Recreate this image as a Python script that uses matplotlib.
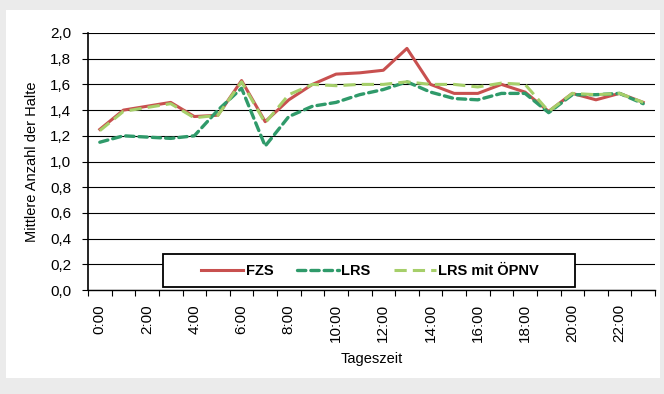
import numpy as np
from matplotlib import pyplot as plt
from matplotlib.patches import Rectangle

# Mittlere Anzahl der Halte je Stunde
hours = list(range(24))
tick_labels = ["%d:00" % h for h in range(0, 24, 2)]

fzs = [1.25, 1.40, 1.43, 1.46, 1.35, 1.36, 1.63, 1.31, 1.48, 1.60, 1.68, 1.69, 1.71, 1.88,
       1.60, 1.53, 1.53, 1.60, 1.54, 1.39, 1.53, 1.48, 1.53, 1.46]
lrs = [1.15, 1.20, 1.19, 1.18, 1.20, 1.40, 1.57, 1.12, 1.35, 1.43, 1.46, 1.52, 1.56, 1.62,
       1.54, 1.49, 1.48, 1.53, 1.53, 1.38, 1.52, 1.52, 1.53, 1.45]
lrs_oepnv = [1.24, 1.39, 1.42, 1.45, 1.34, 1.36, 1.62, 1.30, 1.52, 1.60, 1.59, 1.60, 1.60, 1.62,
             1.60, 1.60, 1.58, 1.61, 1.60, 1.39, 1.53, 1.52, 1.53, 1.46]

plt.rcParams['font.family'] = ['Liberation Sans', 'DejaVu Sans']

fig = plt.figure(figsize=(6.64, 3.94), dpi=100, facecolor="#ebebeb")
# weisse Innenflaeche
fig.patches.append(Rectangle((6 / 664, 16 / 394), 654 / 664, 368 / 394,
                             transform=fig.transFigure, facecolor="white",
                             edgecolor="none", zorder=-10))

ax = fig.add_axes([88 / 664, 1 - 290 / 394, 567 / 664, 257 / 394])
ax.set_zorder(1)
ax.set_facecolor("white")

x = np.array(hours) + 0.5
ax.plot(x, fzs, color="#c8504f", lw=2.2, label="FZS", zorder=3)
ax.plot(x, lrs, color="#2f9a6a", lw=2.4, ls=(0, (2.5, 1.5)), dash_capstyle="round",
        label="LRS", zorder=4)
ax.plot(x, lrs_oepnv, color="#a6cf6a", lw=2.2, ls=(0, (4, 2)), label="LRS mit ÖPNV", zorder=5)

ax.set_xlim(0, 24)
ax.set_ylim(0, 2.0)
yt = np.arange(0, 2.01, 0.2)
ax.set_yticks(yt)
ax.set_yticklabels([("%.1f" % v).replace(".", ",") for v in yt], fontsize=11)
ax.yaxis.grid(True, color="black", lw=0.8)
ax.set_axisbelow(True)

ax.set_xticks(range(25), minor=False)
ax.set_xticklabels([])
ax.set_xticks(np.arange(0.5, 24, 2), minor=True)
ax.set_xticklabels(tick_labels, minor=True, rotation=90, fontsize=11)
ax.tick_params(axis="x", which="minor", length=0, pad=10)
ax.tick_params(axis="x", which="major", length=4, direction="out")
ax.tick_params(axis="y", length=4, pad=8)

for s in ["top", "right"]:
    ax.spines[s].set_visible(False)
ax.spines["left"].set_linewidth(1.2)
ax.spines["bottom"].set_linewidth(1.0)

ax.set_xlabel("Tageszeit", fontsize=10.5, labelpad=7)
ax.set_ylabel("Mittlere Anzahl der Halte", fontsize=10.5, labelpad=8)

# Legendenrahmen separat, Eintraege mittig darin
box = Rectangle((163 / 664, 1 - 287 / 394), 412 / 664, 33 / 394, transform=fig.transFigure,
                facecolor="white", edgecolor="black", lw=1.3, zorder=10)
fig.patches.append(box)
leg = fig.legend(*ax.get_legend_handles_labels(), loc="center",
                 bbox_to_anchor=(370 / 664, 1 - 271 / 394), ncol=3, frameon=False,
                 fontsize=10.5, handlelength=2.9, handletextpad=0.15, columnspacing=1.6,
                 borderaxespad=0, borderpad=0)
leg.set_zorder(11)
for t in leg.get_texts():
    t.set_fontweight("bold")

fig.savefig("out.png", dpi=100, facecolor=fig.get_facecolor())
